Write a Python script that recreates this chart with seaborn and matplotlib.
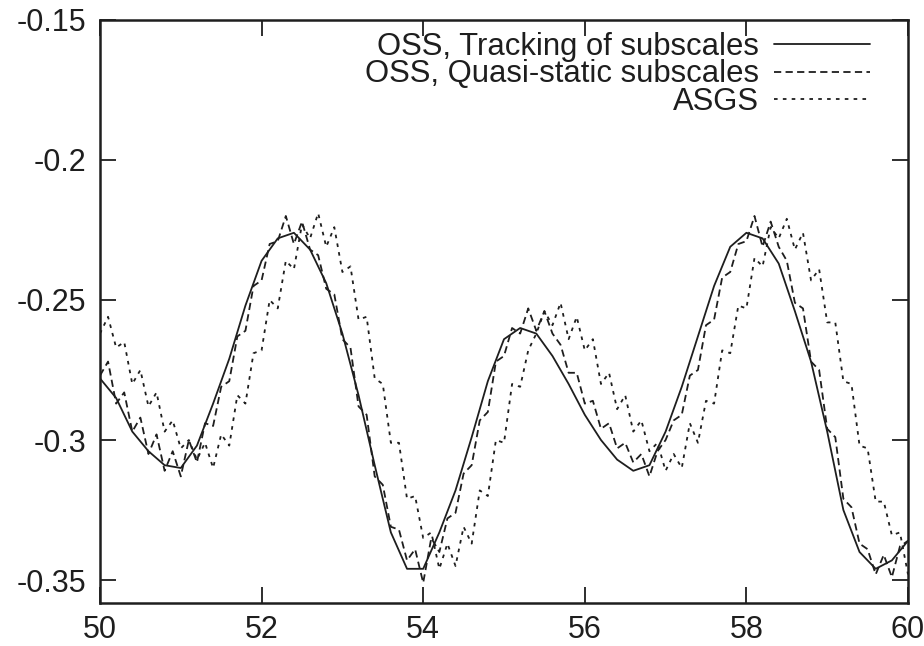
#!/usr/bin/env python3
# -*- coding: utf-8 -*-

"""
Lift coefficient history between t=50 and t=60 for the three
stabilisation methods (OSS with tracking of subscales, OSS with
quasi-static subscales, ASGS). Saved as out.png.
"""

import numpy as np
import pandas as pd
import seaborn as sns
import matplotlib
matplotlib.use("Agg")
import matplotlib.pyplot as plt

# # DATA

labels = ["OSS, Tracking of subscales",
          "OSS, Quasi-static subscales",
          "ASGS"]

# OSS with tracking of subscales, stored every 0.2
t_track = np.linspace(50.0, 60.0, 51)
y_track = [-0.278, -0.285, -0.297, -0.304, -0.309, -0.310, -0.302, -0.287,
           -0.271, -0.252, -0.236, -0.228, -0.226, -0.232, -0.244, -0.262,
           -0.284, -0.309, -0.333, -0.346, -0.346, -0.333, -0.318, -0.299,
           -0.279, -0.264, -0.260, -0.262, -0.270, -0.280, -0.291, -0.300,
           -0.307, -0.311, -0.309, -0.297, -0.281, -0.263, -0.245, -0.231,
           -0.226, -0.228, -0.237, -0.254, -0.272, -0.297, -0.325, -0.340,
           -0.346, -0.343, -0.336]

# OSS with quasi-static subscales, stored every 0.1
t_quasi = np.linspace(50.0, 60.0, 101)
y_quasi = [-0.277, -0.272, -0.287, -0.283, -0.297, -0.292, -0.305, -0.298,
           -0.311, -0.304, -0.313, -0.300, -0.308, -0.294, -0.295, -0.281,
           -0.279, -0.263, -0.261, -0.245, -0.243, -0.230, -0.229, -0.220,
           -0.230, -0.222, -0.232, -0.234, -0.246, -0.248, -0.264, -0.267,
           -0.288, -0.291, -0.313, -0.316, -0.331, -0.332, -0.343, -0.339,
           -0.351, -0.335, -0.340, -0.328, -0.326, -0.312, -0.309, -0.293,
           -0.290, -0.272, -0.270, -0.260, -0.262, -0.253, -0.261, -0.254,
           -0.262, -0.266, -0.276, -0.276, -0.287, -0.286, -0.296, -0.294,
           -0.303, -0.301, -0.308, -0.305, -0.313, -0.304, -0.300, -0.293,
           -0.291, -0.277, -0.275, -0.259, -0.257, -0.242, -0.240, -0.230,
           -0.229, -0.220, -0.231, -0.222, -0.231, -0.236, -0.251, -0.253,
           -0.272, -0.275, -0.296, -0.299, -0.321, -0.324, -0.337, -0.339,
           -0.348, -0.341, -0.349, -0.338, -0.336]

# ASGS, stored every 0.1
t_asgs = np.linspace(50.0, 60.0, 101)
y_asgs = [-0.262, -0.256, -0.267, -0.265, -0.280, -0.275, -0.288, -0.283,
          -0.297, -0.293, -0.303, -0.300, -0.307, -0.301, -0.310, -0.298,
          -0.302, -0.284, -0.287, -0.269, -0.268, -0.250, -0.253, -0.236,
          -0.239, -0.223, -0.228, -0.219, -0.231, -0.224, -0.240, -0.238,
          -0.257, -0.256, -0.278, -0.280, -0.301, -0.301, -0.321, -0.320,
          -0.335, -0.333, -0.346, -0.337, -0.345, -0.331, -0.337, -0.318,
          -0.320, -0.300, -0.301, -0.280, -0.281, -0.268, -0.262, -0.254,
          -0.259, -0.251, -0.264, -0.256, -0.268, -0.264, -0.280, -0.276,
          -0.289, -0.284, -0.297, -0.293, -0.304, -0.301, -0.311, -0.305,
          -0.310, -0.294, -0.301, -0.286, -0.287, -0.268, -0.269, -0.252,
          -0.253, -0.235, -0.238, -0.224, -0.228, -0.221, -0.232, -0.226,
          -0.243, -0.239, -0.258, -0.258, -0.279, -0.280, -0.302, -0.303,
          -0.322, -0.322, -0.334, -0.333, -0.348]

x_ticks = [50, 52, 54, 56, 58, 60]
x_tick_labels = ["50", "52", "54", "56", "58", "60"]
y_ticks = [-0.35, -0.3, -0.25, -0.2, -0.15]
y_tick_labels = ["-0.35", "-0.3", "-0.25", "-0.2", "-0.15"]

track = pd.DataFrame({"t": t_track, "cl": y_track})
quasi = pd.DataFrame({"t": t_quasi, "cl": y_quasi})
asgs = pd.DataFrame({"t": t_asgs, "cl": y_asgs})

# # STYLE

sns.set_theme(style="ticks")
plt.rcParams["font.family"] = ["Liberation Sans", "DejaVu Sans"]
plt.rcParams["axes.unicode_minus"] = False
ink = "#1e1e1e"

fig = plt.figure(figsize=(9.24, 6.46), dpi=100)
ax = fig.add_axes([0.1082, 0.0666, 0.8745, 0.9025])

# # DRAW

sns.lineplot(data=track, x="t", y="cl", ax=ax, color=ink, linewidth=1.3,
             errorbar=None, legend=False, label=labels[0])
sns.lineplot(data=quasi, x="t", y="cl", ax=ax, color=ink, linewidth=1.3,
             linestyle=(0, (4.0, 2.4)), errorbar=None, legend=False,
             label=labels[1])
sns.lineplot(data=asgs, x="t", y="cl", ax=ax, color=ink, linewidth=1.3,
             linestyle=(0, (2.0, 2.9)), errorbar=None, legend=False,
             label=labels[2])

ax.set_xlim(50, 60)
ax.set_ylim(-0.3582, -0.15)
ax.set_xticks(x_ticks, x_tick_labels)
ax.set_yticks(y_ticks, y_tick_labels)
ax.set_xlabel("")
ax.set_ylabel("")

ax.tick_params(direction="in", length=11.5, width=1.3, top=True, right=True,
               labelsize=22, color=ink, labelcolor=ink)
ax.tick_params(axis="x", pad=8.5)
ax.tick_params(axis="y", pad=10)
for sp in ax.spines.values():
    sp.set_linewidth(1.8)
    sp.set_color(ink)

leg = ax.legend(loc="upper right", bbox_to_anchor=(0.953, 0.980),
                frameon=False, markerfirst=False, fontsize=22.3,
                handlelength=3.1, handletextpad=0.5, labelspacing=-0.07,
                borderpad=0, borderaxespad=0)
for t in leg.get_texts():
    t.set_color(ink)

fig.savefig("out.png", dpi=100)
plt.close()
